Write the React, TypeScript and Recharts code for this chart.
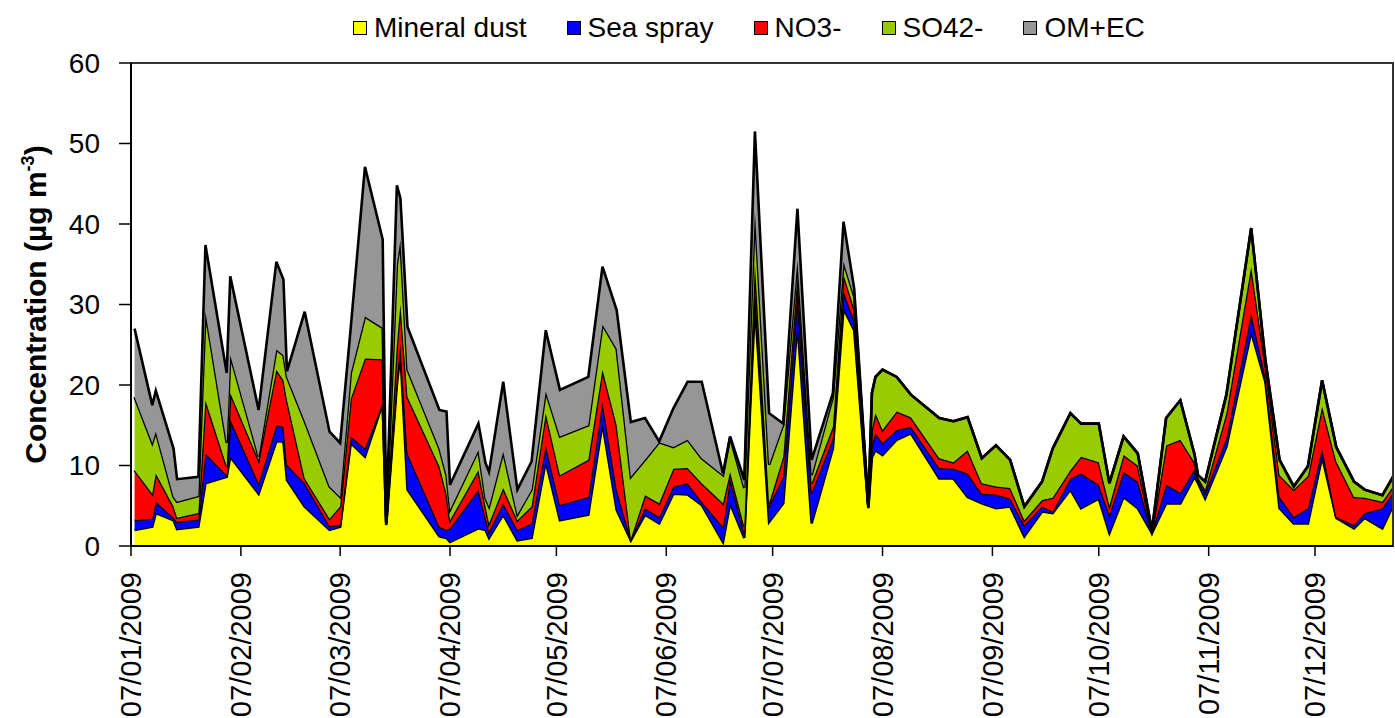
import { Area, AreaChart, Legend, ReferenceArea, XAxis, YAxis } from 'recharts'

// sampling dates (yyyy-mm-dd)
const dates = [
  '2009-01-08', '2009-01-13', '2009-01-14', '2009-01-19', '2009-01-20', '2009-01-26', '2009-01-28',
  '2009-02-03', '2009-02-04', '2009-02-12', '2009-02-17', '2009-02-19', '2009-02-20', '2009-02-25',
  '2009-03-04', '2009-03-07', '2009-03-10', '2009-03-14', '2009-03-19', '2009-03-20', '2009-03-23', '2009-03-24', '2009-03-26',
  '2009-04-04', '2009-04-06', '2009-04-07', '2009-04-15', '2009-04-17', '2009-04-18', '2009-04-22', '2009-04-26', '2009-04-30',
  '2009-05-04', '2009-05-08', '2009-05-16', '2009-05-20', '2009-05-24', '2009-05-28',
  '2009-06-01', '2009-06-05', '2009-06-09', '2009-06-13', '2009-06-17', '2009-06-23', '2009-06-25', '2009-06-29',
  '2009-07-02', '2009-07-06', '2009-07-10', '2009-07-14', '2009-07-18', '2009-07-24', '2009-07-27', '2009-07-30',
  '2009-08-03', '2009-08-04', '2009-08-05', '2009-08-07', '2009-08-11', '2009-08-15', '2009-08-23', '2009-08-27', '2009-08-31',
  '2009-09-04', '2009-09-08', '2009-09-12', '2009-09-16', '2009-09-21', '2009-09-24', '2009-09-29',
  '2009-10-02', '2009-10-07', '2009-10-10', '2009-10-14', '2009-10-18', '2009-10-22', '2009-10-26', '2009-10-30',
  '2009-11-03', '2009-11-04', '2009-11-06', '2009-11-12', '2009-11-19', '2009-11-23', '2009-11-27',
  '2009-12-01', '2009-12-05', '2009-12-09', '2009-12-13', '2009-12-18', '2009-12-21', '2009-12-26', '2009-12-29',
]

// µg m-3 per component, same order as dates
const mineralDust = [
  2.0, 2.4, 4.1, 3.2, 2.1, 2.4, 7.8,
  8.6, 11.1, 6.5, 13.0, 13.0, 8.2, 4.9,
  2.0, 2.4, 12.8, 11.1, 17.7, 2.6, 20.0, 24.0, 7.0,
  1.2, 1.0, 0.5, 2.2, 2.0, 1.0, 3.9, 0.7, 1.0,
  10.5, 3.2, 3.9, 15.2, 4.5, 0.7,
  3.9, 2.8, 6.5, 6.4, 5.1, 0.5, 5.3, 1.0,
  30.0, 3.0, 5.3, 27.7, 2.8, 12.1, 29.5, 26.8,
  4.7, 11.0, 11.9, 11.3, 13.2, 14.0, 8.4, 8.4, 6.1,
  5.3, 4.7, 4.9, 1.2, 4.3, 4.1, 7.0,
  4.7, 5.9, 1.6, 6.1, 4.7, 1.6, 5.3, 5.3,
  8.6, 7.8, 5.9, 12.3, 26.6, 20.4, 4.7,
  2.8, 2.8, 11.1, 3.5, 2.2, 3.5, 2.2, 5.0,
]

const seaSpray = [
  1.2, 1.0, 1.4, 0.3, 0.9, 0.9, 3.7,
  0.2, 4.6, 1.3, 2.0, 1.8, 1.9, 2.9,
  0.5, 0.2, 0.8, 1.0, 0.1, 0.2, 1.0, 1.0, 4.5,
  1.2, 1.0, 1.7, 4.8, 1.5, 0.8, 1.4, 1.3, 1.8,
  2.0, 1.9, 2.2, 2.7, 2.5, 0.1,
  0.8, 0.8, 0.9, 1.4, 0.4, 1.9, 3.1, 0.6,
  2.0, 2.0, 3.3, 3.7, 3.8, 1.3, 2.1, 1.2,
  0.1, 1.5, 2.1, 1.5, 1.2, 0.8, 1.3, 1.2, 2.9,
  1.2, 1.7, 1.0, 1.4, 0.6, 0.2, 1.4,
  4.3, 1.7, 2.3, 3.1, 3.3, 0.1, 2.3, 1.3,
  0.9, 0.4, 0.7, 1.1, 2.3, 0.6, 1.4,
  0.8, 1.9, 1.0, 0.1, 0.4, 0.6, 2.5, 1.6,
]

const nitrate = [
  6.2, 3.1, 3.5, 1.4, 0.5, 0.8, 6.6,
  1.1, 3.3, 2.9, 6.9, 5.8, 8.0, 0.6,
  0.9, 2.3, 4.7, 11.2, 5.4, 0.1, 4.0, 5.0, 7.0,
  7.5, 4.5, 1.0, 2.4, 1.4, 1.0, 1.9, 1.2, 2.1,
  4.0, 3.7, 4.6, 4.0, 8.0, 0.1,
  1.6, 1.7, 2.2, 1.9, 2.3, 2.9, 0.8, 0.8,
  3.0, 0.3, 2.5, 2.1, 1.2, 1.4, 2.1, 1.5,
  0.1, 2.0, 2.5, 1.6, 2.3, 1.2, 1.2, 0.8, 2.9,
  1.3, 1.0, 1.3, 0.6, 0.8, 1.7, 1.0,
  2.1, 2.8, 1.1, 2.1, 2.0, 0.1, 4.9, 6.6,
  0.9, 0.3, 0.4, 3.1, 5.8, 1.5, 2.7,
  3.4, 4.0, 5.2, 6.9, 3.5, 1.9, 0.8, 0.8,
]

const sulphate = [
  9.1, 6.3, 5.2, 1.2, 2.0, 2.1, 11.0,
  2.9, 4.7, 0.4, 2.5, 3.1, 2.9, 7.1,
  4.0, 1.2, 3.2, 5.2, 3.9, 0.1, 10.0, 8.0, 3.4,
  2.2, 2.3, 1.3, 2.5, 1.0, 2.1, 4.5, 0.7, 2.1,
  2.7, 4.8, 4.3, 5.6, 9.5, 7.7,
  4.4, 7.6, 2.7, 3.5, 3.1, 3.5, 4.3, 4.8,
  6.5, 4.8, 4.0, 2.0, 1.0, 3.7, 1.6, 1.5,
  0.1, 4.5, 4.5, 7.5, 4.3, 2.8, 5.0, 5.1, 4.1,
  3.1, 5.1, 3.5, 1.7, 2.3, 6.1, 7.1,
  4.1, 4.8, 2.8, 2.3, 1.5, 0.1, 3.4, 4.9,
  1.0, 0.3, 1.0, 2.3, 4.8, 0.6, 1.9,
  0.4, 1.2, 3.3, 1.8, 1.9, 1.0, 0.8, 1.2,
]

const omEc = [
  8.5, 4.7, 5.1, 6.0, 2.8, 2.4, 8.3,
  8.7, 9.8, 5.8, 10.9, 9.4, 0.7, 13.6,
  6.8, 6.7, 5.7, 18.6, 11.0, 0.1, 9.8, 5.2, 5.3,
  4.8, 7.9, 3.1, 3.3, 4.4, 4.3, 8.7, 3.1, 3.5,
  7.6, 5.8, 6.0, 7.2, 4.8, 6.8,
  5.2, 0.1, 4.8, 7.2, 9.5, 0.2, 0.1, 1.0,
  10.0, 6.4, 0.1, 6.4, 1.9, 0.5, 5.0, 1.0,
  0.1, 0, 0, 0, 0, 0, 0, 0, 0,
  0, 0, 0, 0, 0, 0, 0,
  0, 0, 0, 0, 0, 0, 0, 0,
  0, 0, 0, 0, 0, 0, 0,
  0, 0, 0, 0, 0, 0, 0, 0,
]

const monthTicks = [
  '2009-01-07', '2009-02-07', '2009-03-07', '2009-04-07', '2009-05-07', '2009-06-07',
  '2009-07-07', '2009-08-07', '2009-09-07', '2009-10-07', '2009-11-07', '2009-12-07',
]
const yTicks = [0, 10, 20, 30, 40, 50, 60]

const toTime = (d: string) => Date.parse(d + 'T00:00:00Z')
const xStart = toTime('2009-01-07')
const xEnd = toTime('2009-12-29')

const data = dates.map((d, i) => ({
  t: toTime(d),
  dust: mineralDust[i],
  spray: seaSpray[i],
  no3: nitrate[i],
  so4: sulphate[i],
  om: omEc[i],
}))

const series = [
  { key: 'dust', name: 'Mineral dust', color: '#ffff00' },
  { key: 'spray', name: 'Sea spray', color: '#0000ff' },
  { key: 'no3', name: 'NO3-', color: '#ff0000' },
  { key: 'so4', name: 'SO42-', color: '#99cc00' },
  { key: 'om', name: 'OM+EC', color: '#969696' },
]

const FONT = '"Liberation Sans", Arial, sans-serif'

function formatDate(t: number) {
  const d = new Date(t)
  const dd = String(d.getUTCDate()).padStart(2, '0')
  const mm = String(d.getUTCMonth() + 1).padStart(2, '0')
  return `${dd}/${mm}/${d.getUTCFullYear()}`
}

function DateTick({ x, y, payload }: any) {
  return (
    <text
      x={x}
      y={y}
      transform={`rotate(-90 ${x} ${y})`}
      textAnchor="end"
      dy="0.35em"
      fontSize={29}
      fontFamily={FONT}
      fill="#000"
    >
      {formatDate(payload.value)}
    </text>
  )
}

function YTitle({ viewBox }: any) {
  const cx = 46
  const cy = viewBox.y + viewBox.height / 2
  return (
    <text
      x={cx}
      y={cy}
      transform={`rotate(-90 ${cx} ${cy})`}
      textAnchor="middle"
      fontSize={30}
      fontWeight="bold"
      fontFamily={FONT}
      fill="#000"
    >
      Concentration (µg m
      <tspan dy={-12} fontSize={18}>-3</tspan>
      <tspan dy={12}>)</tspan>
    </text>
  )
}

function LegendRow() {
  return (
    <div style={{ height: 58, fontFamily: FONT }}>
      <div style={{ display: 'flex', alignItems: 'center', height: 46, paddingLeft: 353 }}>
        {series.map((s) => (
          <div key={s.key} style={{ display: 'flex', alignItems: 'center', marginRight: 40 }}>
            <span
              style={{
                width: 12,
                height: 12,
                background: s.color,
                border: '1px solid #000',
                marginRight: 7,
                display: 'inline-block',
              }}
            />
            <span style={{ fontSize: 28, color: '#000', lineHeight: 1 }}>{s.name}</span>
          </div>
        ))}
      </div>
    </div>
  )
}

export default function App() {
  return (
    <div style={{ position: 'absolute', left: 0, top: 0, background: '#fff' }}>
      <AreaChart
        width={1395}
        height={718}
        data={data}
        margin={{ top: 5, right: 2, bottom: 0, left: 0 }}
        style={{ fontFamily: FONT }}
      >
        <Legend
          verticalAlign="top"
          content={() => <LegendRow />}
          wrapperStyle={{ top: 5, left: 0, width: 1395, height: 58 }}
        />
        <XAxis
          dataKey="t"
          type="number"
          domain={[xStart, xEnd]}
          ticks={monthTicks.map(toTime)}
          interval={0}
          allowDataOverflow
          height={172}
          tickSize={10}
          tickMargin={16}
          tick={<DateTick />}
          axisLine={{ stroke: '#000', strokeWidth: 2 }}
          tickLine={{ stroke: '#000', strokeWidth: 1.5 }}
        />
        <YAxis
          type="number"
          domain={[0, 60]}
          ticks={yTicks}
          interval={0}
          width={131}
          tickSize={12}
          tickMargin={19}
          tick={{ fontSize: 28, fill: '#000', fontFamily: FONT }}
          axisLine={{ stroke: '#000', strokeWidth: 2 }}
          tickLine={{ stroke: '#000', strokeWidth: 1.5 }}
          label={{ content: (props: any) => <YTitle viewBox={props.viewBox} /> }}
        />
        {series.map((s) => (
          <Area
            key={s.key}
            dataKey={s.key}
            name={s.name}
            stackId="conc"
            type="linear"
            fill={s.color}
            fillOpacity={1}
            stroke="#000"
            strokeWidth={2.6}
            dot={false}
            activeDot={false}
            isAnimationActive={false}
          />
        ))}
        <ReferenceArea
          x1={xStart}
          x2={xEnd}
          y1={0}
          y2={60}
          fill="none"
          stroke="#333"
          strokeWidth={2}
        />
      </AreaChart>
    </div>
  )
}
